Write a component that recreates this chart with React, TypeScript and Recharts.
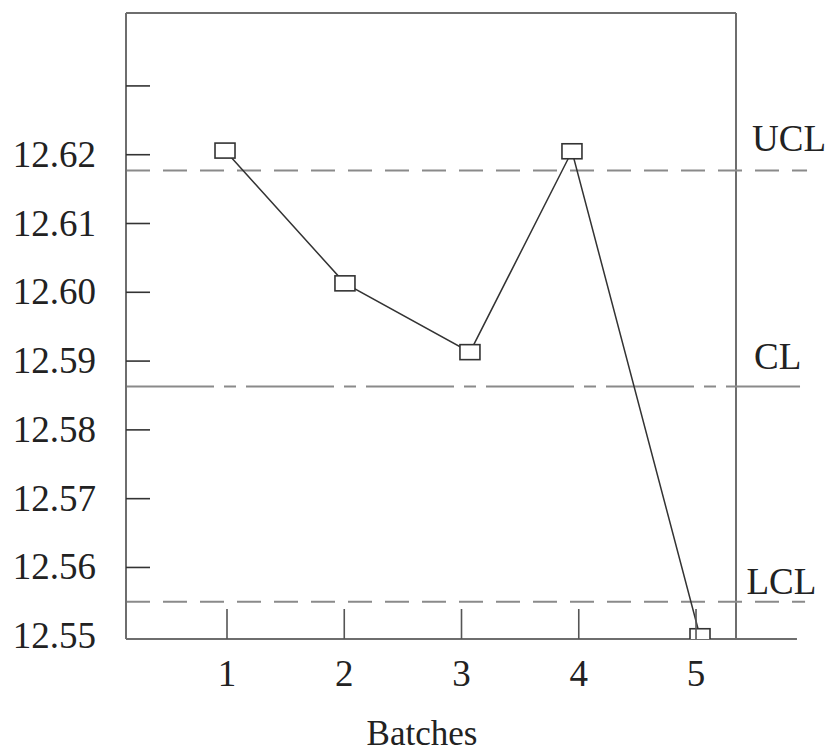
import { LineChart, Line, XAxis, YAxis, ReferenceLine, ReferenceDot } from 'recharts';

// batch means
const batches = [0.983, 2.006, 3.072, 3.942, 5.034];
const means = [12.6206, 12.6013, 12.5913, 12.6205, 12.55];

const xTicks = [1, 2, 3, 4, 5];
const yTicks = [12.55, 12.56, 12.57, 12.58, 12.59, 12.6, 12.61, 12.62, 12.63];
const yLabelled = [12.55, 12.56, 12.57, 12.58, 12.59, 12.6, 12.61, 12.62];

const UCL = 12.6177;
const CL = 12.5863;
const LCL = 12.555;
const limitNames = ['UCL', 'CL', 'LCL'];

const X_DOMAIN: [number, number] = [0.1386, 5.341];
const Y_DOMAIN: [number, number] = [12.5496, 12.6406];

const FONT = '"Liberation Serif", "Times New Roman", serif';
const INK = '#222';
const FRAME = '#6e6e6e';
const LIMIT = '#8a8a8a';

const data = batches.map((b, i) => ({ batch: b, mean: means[i] }));

const XTick = ({ x, y, payload }: any) => (
  <g>
    <line x1={x} x2={x} y1={y - 30} y2={y} stroke="#555" strokeWidth={1.6} />
    <text x={x} y={y + 47} textAnchor="middle" fontSize={37} fontFamily={FONT} fill={INK}>
      {payload.value}
    </text>
  </g>
);

// the lowest tick sits on the bottom axis, so only its label is drawn
const YTick = ({ x, y, payload }: any) => (
  <g>
    {payload.value > yTicks[0] && (
      <line x1={x} x2={x + 24} y1={y} y2={y} stroke="#333" strokeWidth={1.6} />
    )}
    {yLabelled.includes(payload.value) && (
      <text x={x - 30} y={y + 12} textAnchor="end" fontSize={37} fontFamily={FONT} fill={INK}>
        {payload.value.toFixed(2)}
      </text>
    )}
  </g>
);

const Square = ({ cx, cy }: any) => (
  <rect x={cx - 10} y={cy - 7.5} width={20} height={15} fill="#fff" stroke="#333" strokeWidth={1.6} />
);

const limitLabel = (text: string, dx: number, dy: number) => ({ viewBox }: any) => (
  <text x={viewBox.x + dx} y={viewBox.y + dy} fontSize={37} fontFamily={FONT} fill={INK}>
    {text}
  </text>
);

const xLabel = ({ viewBox }: any) => (
  <text
    x={viewBox.x + viewBox.width / 2 - 9}
    y={viewBox.y + 106}
    textAnchor="middle"
    fontSize={35}
    fontFamily={FONT}
    fill={INK}
  >
    Batches
  </text>
);

export default function App() {
  return (
    <div style={{ position: 'absolute', left: 0, top: 0, background: '#fff' }}>
      <LineChart width={830} height={755} data={data} margin={{ top: 13, right: 94, bottom: 36, left: 6 }}>
        <XAxis
          dataKey="batch"
          type="number"
          domain={X_DOMAIN}
          allowDataOverflow
          ticks={xTicks}
          tick={<XTick />}
          tickLine={false}
          tickSize={0}
          tickMargin={0}
          axisLine={false}
          height={80}
          label={xLabel}
        />
        <YAxis
          type="number"
          domain={Y_DOMAIN}
          allowDataOverflow
          ticks={yTicks}
          tick={<YTick />}
          tickLine={false}
          tickSize={0}
          tickMargin={0}
          axisLine={{ stroke: FRAME, strokeWidth: 2 }}
          width={120}
        />
        {/* frame: top, right, and bottom axis running past the box */}
        <ReferenceLine y={Y_DOMAIN[1]} stroke={FRAME} strokeWidth={2} />
        <ReferenceLine x={X_DOMAIN[1]} stroke={FRAME} strokeWidth={2} />
        <ReferenceLine
          segment={[{ x: X_DOMAIN[0], y: Y_DOMAIN[0] }, { x: 5.861, y: Y_DOMAIN[0] }]}
          ifOverflow="visible"
          stroke={FRAME}
          strokeWidth={2}
        />
        {/* control limits */}
        <ReferenceLine
          segment={[{ x: X_DOMAIN[0], y: UCL }, { x: 5.947, y: UCL }]}
          ifOverflow="visible"
          stroke={LIMIT}
          strokeWidth={2}
          strokeDasharray="24 13"
        />
        <ReferenceLine
          segment={[{ x: X_DOMAIN[0], y: CL }, { x: 5.887, y: CL }]}
          ifOverflow="visible"
          stroke={LIMIT}
          strokeWidth={2}
          strokeDasharray="88 10 12 10"
        />
        <ReferenceLine
          segment={[{ x: X_DOMAIN[0], y: LCL }, { x: 5.93, y: LCL }]}
          ifOverflow="visible"
          stroke={LIMIT}
          strokeWidth={2}
          strokeDasharray="24 13"
        />
        <ReferenceDot x={5.478} y={UCL} r={0} ifOverflow="visible" label={limitLabel(limitNames[0], 0, -20)} />
        <ReferenceDot x={5.495} y={CL} r={0} ifOverflow="visible" label={limitLabel(limitNames[1], 0, -18)} />
        <ReferenceDot x={5.43} y={LCL} r={0} ifOverflow="visible" label={limitLabel(limitNames[2], 0, -8)} />
        <Line
          dataKey="mean"
          type="linear"
          stroke="#333"
          strokeWidth={1.5}
          dot={<Square />}
          activeDot={false}
          isAnimationActive={false}
        />
      </LineChart>
    </div>
  );
}
